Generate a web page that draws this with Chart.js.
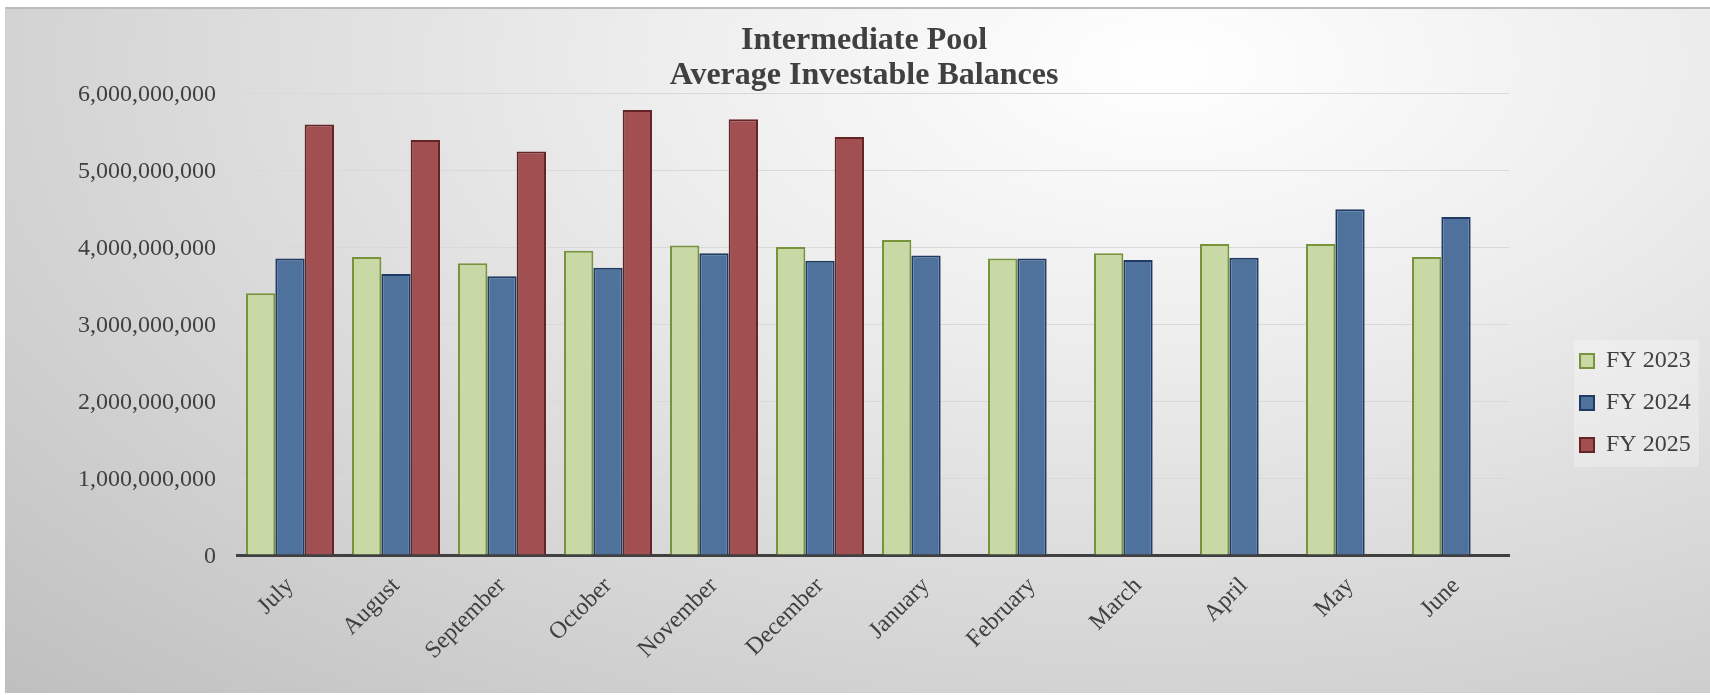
<!DOCTYPE html>
<html>
<head>
<meta charset="utf-8">
<title>Intermediate Pool - Average Investable Balances</title>
<script src="https://cdn.jsdelivr.net/npm/chart.js@4.4.1/dist/chart.umd.min.js"></script>
<style>
    html, body { margin: 0; padding: 0; background: #fff; }
    #frame {
        position: absolute;
        left: 5px;
        top: 7px;
        width: 1705px;
        height: 684px;
        border-top: 2px solid #bcbcbc;
        background: radial-gradient(ellipse farthest-corner at 68% 8%, #ffffff 0%, #eeeeee 30%, #bfbfbf 100%);
    }
</style>
</head>
<body>
<div id="frame"><canvas id="balances-chart"></canvas></div>
<script>
// Fiscal year months
const months = ['July', 'August', 'September', 'October', 'November', 'December',
    'January', 'February', 'March', 'April', 'May', 'June'];

// Average investable balances per fiscal year
const fy2023 = [3400000000, 3870000000, 3790000000, 3950000000, 4020000000, 4000000000,
    4090000000, 3850000000, 3920000000, 4040000000, 4040000000, 3870000000];
const fy2024 = [3850000000, 3650000000, 3620000000, 3730000000, 3920000000, 3820000000,
    3890000000, 3850000000, 3830000000, 3860000000, 4490000000, 4390000000];
const fy2025 = [5590000000, 5390000000, 5240000000, 5780000000, 5660000000, 5430000000,
    null, null, null, null, null, null];

const seriesNames = ['FY 2023', 'FY 2024', 'FY 2025'];

// Y axis ticks
const yTicks = [0, 1000000000, 2000000000, 3000000000, 4000000000, 5000000000, 6000000000];

const textColor = '#404040';
const serif = '"Liberation Serif", "Times New Roman", serif';

// Move the legend to the right side of the frame and give it a light box
const legendPlacement = {
    id: 'legendPlacement',
    afterLayout(chart) {
        const legend = chart.legend;
        legend.left = 1557;
        legend.right = 1700;
        legend.top = 322;
        legend.bottom = 560;
        legend.width = legend.right - legend.left;
        legend.height = legend.bottom - legend.top;
    },
    beforeDraw(chart) {
        const ctx = chart.ctx;
        ctx.save();
        ctx.fillStyle = 'rgba(255, 255, 255, 0.28)';
        ctx.fillRect(1569, 331, 125, 127);
        ctx.restore();
    }
};

document.addEventListener('DOMContentLoaded', () => {
    const ctx = document.getElementById('balances-chart').getContext('2d');

    window.balancesChart = new Chart(ctx, {
        type: 'bar',
        data: {
            labels: months,
            datasets: [{
                label: seriesNames[0],
                data: fy2023,
                backgroundColor: '#c9d9a6',
                borderColor: '#77933c',
                borderWidth: 2
            }, {
                label: seriesNames[1],
                data: fy2024,
                backgroundColor: '#4f729d',
                borderColor: '#1f3b63',
                borderWidth: 2
            }, {
                label: seriesNames[2],
                data: fy2025,
                backgroundColor: '#a24f51',
                borderColor: '#632425',
                borderWidth: 2
            }]
        },
        options: {
            responsive: true,
            maintainAspectRatio: false,
            animation: false,
            categoryPercentage: 0.83,
            barPercentage: 1,
            layout: {
                padding: { left: 70, right: 57, top: 0, bottom: 0 }
            },
            plugins: {
                title: {
                    display: true,
                    text: ['Intermediate Pool', 'Average Investable Balances'],
                    color: textColor,
                    font: { family: serif, size: 32, weight: 'bold', lineHeight: 35 / 32 },
                    padding: { top: 14, bottom: 0 }
                },
                legend: {
                    position: 'chartArea',
                    align: 'start',
                    labels: {
                        color: textColor,
                        font: { family: serif, size: 24 },
                        boxWidth: 14,
                        boxHeight: 14,
                        padding: 18
                    }
                },
                tooltip: { enabled: false }
            },
            scales: {
                x: {
                    grid: { display: false },
                    border: { color: '#404040', width: 3 },
                    ticks: {
                        color: textColor,
                        font: { family: serif, size: 24 },
                        minRotation: 45,
                        maxRotation: 45,
                        autoSkip: false,
                        padding: 9
                    },
                    afterFit: (scale) => { scale.height = 138; }
                },
                y: {
                    min: 0,
                    max: 6000000000,
                    border: { display: false },
                    grid: { color: '#d9d9d9', lineWidth: 1, drawTicks: false },
                    afterBuildTicks: (scale) => {
                        scale.ticks = yTicks.map(v => ({ value: v }));
                    },
                    ticks: {
                        color: textColor,
                        font: { family: serif, size: 24 },
                        padding: 21,
                        labelOffset: 2,
                        callback: (value) => Number(value).toLocaleString('en-US')
                    },
                    afterFit: (scale) => { scale.width = 162; }
                },
                // empty right-hand strip that keeps room for the legend
                legendSpace: {
                    type: 'linear',
                    position: 'right',
                    grid: { display: false },
                    border: { display: false },
                    ticks: { display: false },
                    afterFit: (scale) => { scale.width = 144; }
                }
            }
        },
        plugins: [legendPlacement]
    });
});
</script>
</body>
</html>
